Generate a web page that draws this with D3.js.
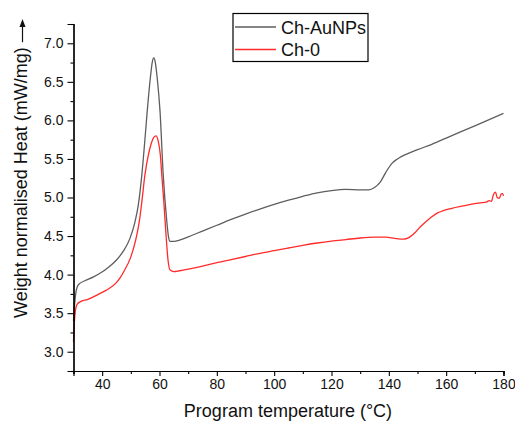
<!DOCTYPE html>
<html>
<head>
<meta charset="utf-8">
<script src="https://cdn.jsdelivr.net/npm/d3@7/dist/d3.min.js"></script>
<style>
  html, body { margin: 0; padding: 0; background: #fff; }
  svg { display: block; font-family: "Liberation Sans", Arial, sans-serif; }
</style>
</head>
<body>
<svg id="chart" width="515" height="426"></svg>
<script>
// ---- data ----
const seriesNames = ["Ch-AuNPs", "Ch-0"];
const seriesColors = ["#5e5e5e", "#ff2a2a"];

const tempAuNPs = [30.0,30.4,30.8,31.3,32.0,34,37,39.8,42,45,47.5,49.7,51.3,52.6,53.8,54.8,55.7,56.8,57.5,58.0,58.5,59.2,60.2,61.3,62.5,63.1,63.7,65,67.2,70,75,80,85,90,95,100,105,110,115,120,125,130,133,135,137,139,141,143,146,150,155,160,165,170,175,180];
const heatAuNPs = [3.40,3.62,3.76,3.84,3.88,3.92,3.97,4.03,4.09,4.19,4.31,4.47,4.66,4.90,5.28,5.70,6.11,6.55,6.76,6.81,6.76,6.55,6.11,5.29,4.71,4.50,4.43,4.43,4.45,4.49,4.565,4.64,4.715,4.785,4.85,4.91,4.965,5.015,5.06,5.09,5.105,5.10,5.10,5.13,5.20,5.33,5.44,5.50,5.56,5.62,5.69,5.77,5.85,5.93,6.01,6.09];

const tempCh0 = [30.0,30.3,30.7,31.2,32.0,35,39.0,42,44.8,46.3,47.7,49.9,51.0,52.0,53.0,53.8,54.9,56.1,57.2,58.0,58.8,59.5,60.3,60.8,61.5,62.3,63.0,63.7,65,67,70,75,80,85,90,95,100,105,110,115,120,125,130,135,139,142,145,147,149,151,153,155,157,159,162,166,170,172,174,175,175.8,176.5,177.2,177.8,178.5,179.3,179.7,180];
const heatCh0 = [3.13,3.38,3.54,3.61,3.64,3.68,3.75,3.81,3.89,3.96,4.05,4.22,4.35,4.50,4.70,4.93,5.29,5.55,5.71,5.78,5.80,5.74,5.55,5.29,4.95,4.50,4.18,4.06,4.04,4.05,4.07,4.11,4.155,4.195,4.235,4.275,4.31,4.345,4.38,4.41,4.435,4.455,4.475,4.485,4.485,4.47,4.46,4.48,4.54,4.62,4.69,4.75,4.80,4.83,4.86,4.89,4.92,4.93,4.94,4.96,4.95,5.04,5.07,5.00,4.99,5.05,5.05,5.02];

const xTickValues = [40,60,80,100,120,140,160,180];
const xMinorTicks = [30,50,70,90,110,130,150,170];
const yTickValues = [3.0,3.5,4.0,4.5,5.0,5.5,6.0,6.5,7.0];
const yMinorTicks = [2.75,3.25,3.75,4.25,4.75,5.25,5.75,6.25,6.75,7.25];

const xTitle = "Program temperature (°C)";
const yTitle = "Weight normalised Heat (mW/mg)";

// ---- drawing ----
const svg = d3.select("#chart");
const x = d3.scaleLinear().domain([30, 180]).range([73.5, 503.5]);
const y = d3.scaleLinear().domain([2.75, 7.25]).range([371, 24]);

const series = [
  tempAuNPs.map((t, i) => [t, heatAuNPs[i]]),
  tempCh0.map((t, i) => [t, heatCh0[i]])
];

const line = d3.line().x(d => x(d[0])).y(d => y(d[1])).curve(d3.curveMonotoneX);

series.forEach((s, i) => {
  svg.append("path").datum(s)
    .attr("fill", "none")
    .attr("stroke", seriesColors[i])
    .attr("stroke-width", 1.3)
    .attr("stroke-linejoin", "round")
    .attr("d", line);
});

// axes
const xAxis = d3.axisBottom(x).tickValues(xTickValues).tickSize(5).tickPadding(3).tickFormat(d3.format("d"));
const xMinor = d3.axisBottom(x).tickValues(xMinorTicks).tickSize(3).tickFormat("");
const yAxis = d3.axisLeft(y).tickValues(yTickValues).tickSize(6).tickPadding(4).tickFormat(d3.format(".1f"));
const yMinor = d3.axisLeft(y).tickValues(yMinorTicks).tickSize(3).tickFormat("");

function styleAxis(g) {
  g.select(".domain").attr("stroke", "#000").attr("stroke-width", 1.2);
  g.selectAll(".tick line").attr("stroke", "#000").attr("stroke-width", 1.1);
  g.selectAll(".tick text").attr("fill", "#111").style("font-size", "14px")
    .style("font-family", '"Liberation Sans", Arial, sans-serif');
}

svg.append("g").attr("transform", "translate(0,371)").call(xMinor).call(styleAxis);
svg.append("g").attr("transform", "translate(0,371)").call(xAxis).call(styleAxis);
svg.append("g").attr("transform", "translate(73.5,0)").call(yMinor).call(styleAxis);
svg.append("g").attr("transform", "translate(73.5,0)").call(yAxis).call(styleAxis);

// axis titles
svg.append("text")
  .attr("x", 288).attr("y", 417)
  .attr("text-anchor", "middle")
  .style("font-size", "18px").attr("fill", "#111")
  .text(xTitle);

const yLab = svg.append("text")
  .attr("transform", "translate(26.5,318) rotate(-90)")
  .attr("text-anchor", "start")
  .style("font-size", "18px").attr("fill", "#111")
  .text(yTitle);

// arrow after y title
const yLen = yLab.node().getComputedTextLength();
const arrowStart = 318 - yLen - 5;
svg.append("line")
  .attr("x1", 22.5).attr("x2", 22.5)
  .attr("y1", arrowStart).attr("y2", 26)
  .attr("stroke", "#111").attr("stroke-width", 1.2);
svg.append("path")
  .attr("d", `M22.5,19 L19.5,27 L25.5,27 Z`)
  .attr("fill", "#111");

// legend
const legend = svg.append("g");
legend.append("rect")
  .attr("x", 233).attr("y", 13.5).attr("width", 135).attr("height", 48)
  .attr("fill", "#fff").attr("stroke", "#000").attr("stroke-width", 1.2);
seriesNames.forEach((name, i) => {
  const ly = 27 + i * 22.5;
  legend.append("line")
    .attr("x1", 235).attr("x2", 276).attr("y1", ly).attr("y2", ly)
    .attr("stroke", seriesColors[i]).attr("stroke-width", 1.3);
  legend.append("text")
    .attr("x", 281).attr("y", ly + 6.5)
    .style("font-size", "18px").attr("fill", "#111")
    .text(name);
});
</script>
</body>
</html>
